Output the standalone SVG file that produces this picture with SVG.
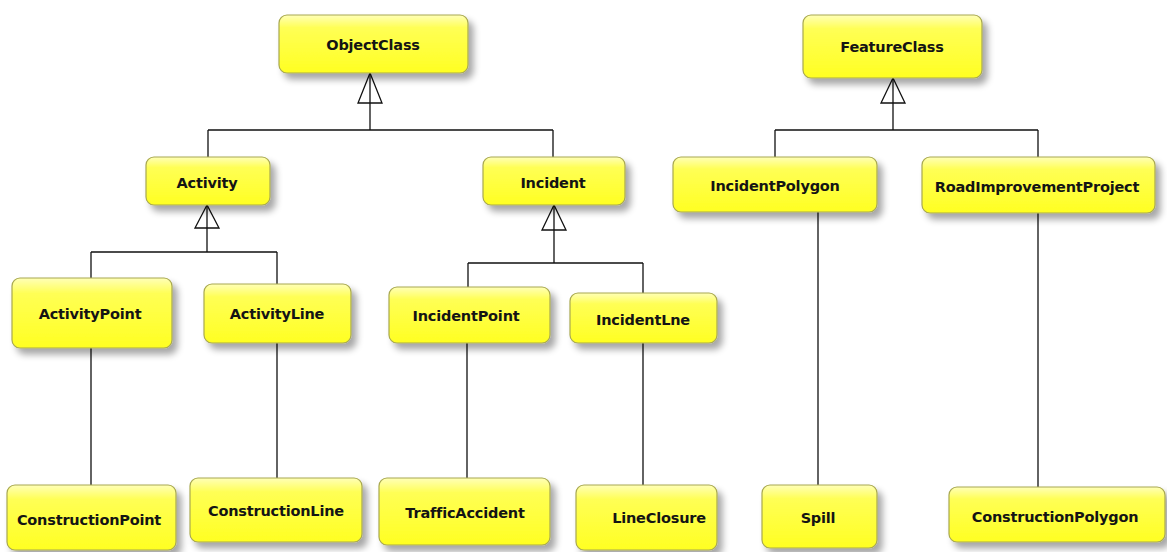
<svg xmlns="http://www.w3.org/2000/svg" width="1167" height="552" viewBox="0 0 1167 552">
  <style>
    .box { fill: url(#boxFill); stroke: #a8a850; stroke-width: 1.2; filter: url(#shadow); }
    .label { font-family: "DejaVu Sans", Verdana, sans-serif; font-weight: bold; font-size: 14.5px; letter-spacing: -0.2px; fill: #141414; text-anchor: middle; dominant-baseline: central; }
    .wire { fill: none; stroke: #111; stroke-width: 1.3; }
    .gen { fill: none; stroke: #111; stroke-width: 1.3; stroke-linejoin: miter; }
  </style>
  <defs>
    <linearGradient id="boxFill" x1="0" y1="0" x2="0" y2="1">
      <stop offset="0" stop-color="#ffffb8"/>
      <stop offset="0.22" stop-color="#ffff55"/>
      <stop offset="1" stop-color="#ffff22"/>
    </linearGradient>
    <filter id="shadow" x="-20%" y="-30%" width="150%" height="180%">
      <feGaussianBlur in="SourceAlpha" stdDeviation="3.5"/>
      <feOffset dx="5" dy="6" result="blur"/>
      <feComponentTransfer><feFuncA type="linear" slope="0.35"/></feComponentTransfer>
      <feMerge><feMergeNode/><feMergeNode in="SourceGraphic"/></feMerge>
    </filter>
  </defs>
  <rect width="1167" height="552" fill="#ffffff"/>

  <!-- connectors -->
  <g id="connectors">
    <!-- ObjectClass generalisation -->
    <path class="wire" d="M370 73 V130 M208 130 H553 M208 130 V157 M553 130 V157"/>
    <path class="gen" d="M370 73 L358 103 H382 Z"/>
    <!-- Activity generalisation -->
    <path class="wire" d="M207 205 V252 M91 252 H277 M91 252 V278 M277 252 V284"/>
    <path class="gen" d="M207 205 L195 228 H219 Z"/>
    <!-- Incident generalisation -->
    <path class="wire" d="M554 205 V263 M468 263 H643 M468 263 V287 M643 263 V293"/>
    <path class="gen" d="M554 205 L542 230 H566 Z"/>
    <!-- FeatureClass generalisation -->
    <path class="wire" d="M893 78 V130 M775 130 H1038 M775 130 V157 M1038 130 V157"/>
    <path class="gen" d="M893 78 L881 103 H905 Z"/>
    <!-- associations -->
    <path class="wire" d="M91 348 V485 M277 343 V478 M467 343 V478 M643 343 V485 M818 212 V485 M1038 213 V487"/>
  </g>

  <g id="ObjectClass"><rect class="box" x="279" y="15" width="189" height="58" rx="8"/><text class="label" x="373" y="45">ObjectClass</text></g>
  <g id="FeatureClass"><rect class="box" x="803" y="15" width="179" height="63" rx="8"/><text class="label" x="892" y="47">FeatureClass</text></g>

  <g id="Activity"><rect class="box" x="146" y="157" width="124" height="48" rx="8"/><text class="label" x="207" y="183">Activity</text></g>
  <g id="Incident"><rect class="box" x="483" y="157" width="142" height="48" rx="8"/><text class="label" x="553" y="183">Incident</text></g>
  <g id="IncidentPolygon"><rect class="box" x="673" y="157" width="204" height="55" rx="8"/><text class="label" x="775" y="186">IncidentPolygon</text></g>
  <g id="RoadImprovementProject"><rect class="box" x="922" y="157" width="233" height="56" rx="8"/><text class="label" x="1037" y="187">RoadImprovementProject</text></g>

  <g id="ActivityPoint"><rect class="box" x="12" y="278" width="160" height="70" rx="8"/><text class="label" x="90" y="314">ActivityPoint</text></g>
  <g id="ActivityLine"><rect class="box" x="204" y="284" width="147" height="59" rx="8"/><text class="label" x="277" y="314">ActivityLine</text></g>
  <g id="IncidentPoint"><rect class="box" x="389" y="287" width="161" height="56" rx="8"/><text class="label" x="466" y="316">IncidentPoint</text></g>
  <g id="IncidentLne"><rect class="box" x="570" y="293" width="147" height="50" rx="8"/><text class="label" x="643" y="320">IncidentLne</text></g>

  <g id="ConstructionPoint"><rect class="box" x="7" y="485" width="169" height="65" rx="8"/><text class="label" x="89" y="520">ConstructionPoint</text></g>
  <g id="ConstructionLine"><rect class="box" x="190" y="478" width="172" height="64" rx="8"/><text class="label" x="276" y="511">ConstructionLine</text></g>
  <g id="TrafficAccident"><rect class="box" x="379" y="478" width="171" height="67" rx="8"/><text class="label" x="465" y="513">TrafficAccident</text></g>
  <g id="LineClosure"><rect class="box" x="576" y="485" width="141" height="65" rx="8"/><text class="label" x="659" y="518">LineClosure</text></g>
  <g id="Spill"><rect class="box" x="762" y="485" width="115" height="63" rx="8"/><text class="label" x="818" y="518">Spill</text></g>
  <g id="ConstructionPolygon"><rect class="box" x="949" y="487" width="216" height="55" rx="8"/><text class="label" x="1055" y="517">ConstructionPolygon</text></g>
</svg>
